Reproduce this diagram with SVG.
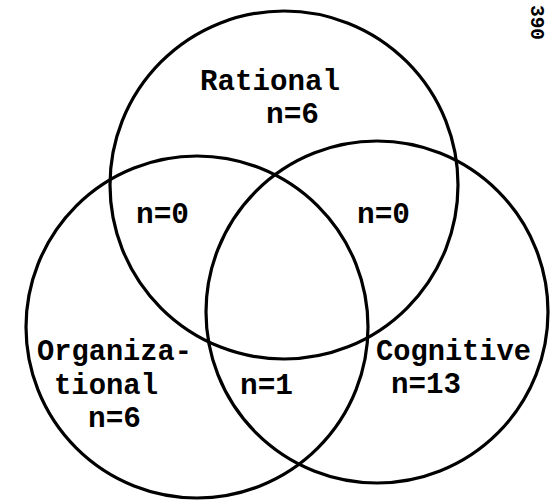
<svg xmlns="http://www.w3.org/2000/svg" width="551" height="500" viewBox="0 0 551 500">
  <style>
    .ring { fill: none; stroke: #000; stroke-width: 3.2; }
    .lbl { font-family: "Liberation Mono", "Courier New", monospace; font-size: 29.5px; font-weight: bold; fill: #000; }
    .pg { font-family: "Liberation Mono", "Courier New", monospace; font-size: 21px; font-weight: bold; fill: #000; }
  </style>
  <rect width="551" height="500" fill="#fff"/>

  <!-- Three overlapping sets -->
  <g id="rational">
    <circle class="ring" cx="284" cy="185" r="174"/>
    <text class="lbl" x="200" y="90" textLength="140" lengthAdjust="spacingAndGlyphs">Rational</text>
    <text class="lbl" x="266" y="123" textLength="53" lengthAdjust="spacingAndGlyphs">n=6</text>
  </g>

  <g id="organizational">
    <circle class="ring" cx="197" cy="327" r="171"/>
    <text class="lbl" x="37" y="360" textLength="155" lengthAdjust="spacingAndGlyphs">Organiza-</text>
    <text class="lbl" x="54" y="394" textLength="104" lengthAdjust="spacingAndGlyphs">tional</text>
    <text class="lbl" x="88" y="427" textLength="53" lengthAdjust="spacingAndGlyphs">n=6</text>
  </g>

  <g id="cognitive">
    <circle class="ring" cx="377" cy="312" r="171"/>
    <text class="lbl" x="376" y="360" textLength="155" lengthAdjust="spacingAndGlyphs">Cognitive</text>
    <text class="lbl" x="391" y="393" textLength="70" lengthAdjust="spacingAndGlyphs">n=13</text>
  </g>

  <!-- Counts for the overlapping regions -->
  <g id="overlaps">
    <text class="lbl" x="136" y="223" textLength="53" lengthAdjust="spacingAndGlyphs">n=0</text>
    <text class="lbl" x="357" y="223" textLength="53" lengthAdjust="spacingAndGlyphs">n=0</text>
    <text class="lbl" x="240" y="394" textLength="53" lengthAdjust="spacingAndGlyphs">n=1</text>
  </g>

  <g id="connectors"/>

  <!-- Page number, printed sideways -->
  <text class="pg" transform="translate(531,5) rotate(90)" x="0" y="0" textLength="35" lengthAdjust="spacingAndGlyphs">390</text>
</svg>
